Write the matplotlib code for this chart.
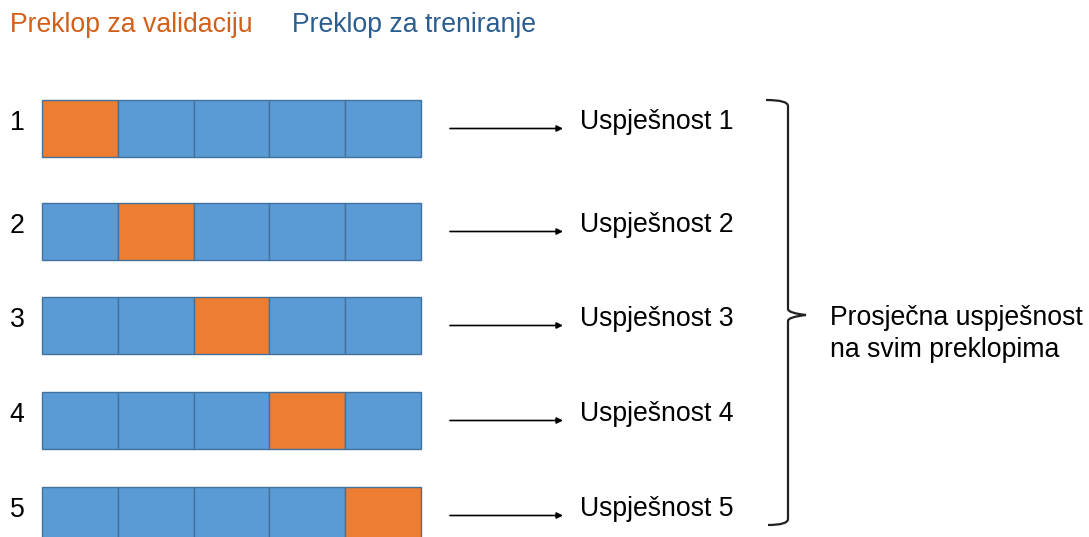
import matplotlib.pyplot as plt
from matplotlib.patches import Rectangle
from matplotlib.path import Path
from matplotlib.patches import PathPatch

plt.rcParams['font.family'] = ['Liberation Sans', 'DejaVu Sans']

# data
fold_labels = ['1', '2', '3', '4', '5']
n_parts = 5
val_part = [0, 1, 2, 3, 4]          # which part is used for validation in each fold
score_labels = ['Uspješnost 1', 'Uspješnost 2', 'Uspješnost 3',
                'Uspješnost 4', 'Uspješnost 5']
legend_labels = ['Preklop za validaciju', 'Preklop za treniranje']
summary_label = 'Prosječna uspješnost\nna svim preklopima'

c_val = '#ED7D31'
c_train = '#5B9BD5'
c_edge = '#41719C'
fs = 19.2

fig = plt.figure(figsize=(10.89, 5.37), dpi=100)
ax = fig.add_axes([0, 0, 1, 1])
ax.set_xlim(0, 1089)
ax.set_ylim(537, 0)
ax.axis('off')

# header legend
ax.text(10, 25, legend_labels[0], color='#D2601A', fontsize=fs, va='center')
ax.text(292, 25, legend_labels[1], color='#2C5D8F', fontsize=fs, va='center')

row_top = [100, 203, 297, 392, 487]
row_h = 57
x0, cell_w = 42, 75.8

for i, lab in enumerate(fold_labels):
    y = row_top[i]
    ax.text(17, y + 23, lab, fontsize=fs, ha='center', va='center')
    for j in range(n_parts):
        col = c_val if j == val_part[i] else c_train
        ax.add_patch(Rectangle((x0 + j * cell_w, y), cell_w, row_h,
                               facecolor=col, edgecolor=c_edge, lw=1))
    ya = y + row_h / 2
    ax.annotate('', xy=(563, ya), xytext=(450, ya),
                arrowprops=dict(arrowstyle='-|>', color='black', lw=1.2,
                                mutation_scale=9, shrinkA=0, shrinkB=0))
    ax.text(580, y + 22, score_labels[i], fontsize=fs, va='center')

# curly brace
verts = [(766, 100), (788, 100), (788, 106),
         (788, 309), (788, 313), (806, 315),
         (788, 317), (788, 321),
         (788, 519), (788, 525), (768, 525)]
codes = [Path.MOVETO, Path.CURVE3, Path.CURVE3,
         Path.LINETO, Path.CURVE3, Path.CURVE3,
         Path.CURVE3, Path.CURVE3,
         Path.LINETO, Path.CURVE3, Path.CURVE3]
ax.add_patch(PathPatch(Path(verts, codes), fill=False, lw=1.6,
                       edgecolor='#222222'))

ax.text(830, 334, summary_label, fontsize=fs, va='center', linespacing=1.32)

fig.savefig('out.png', dpi=100)
